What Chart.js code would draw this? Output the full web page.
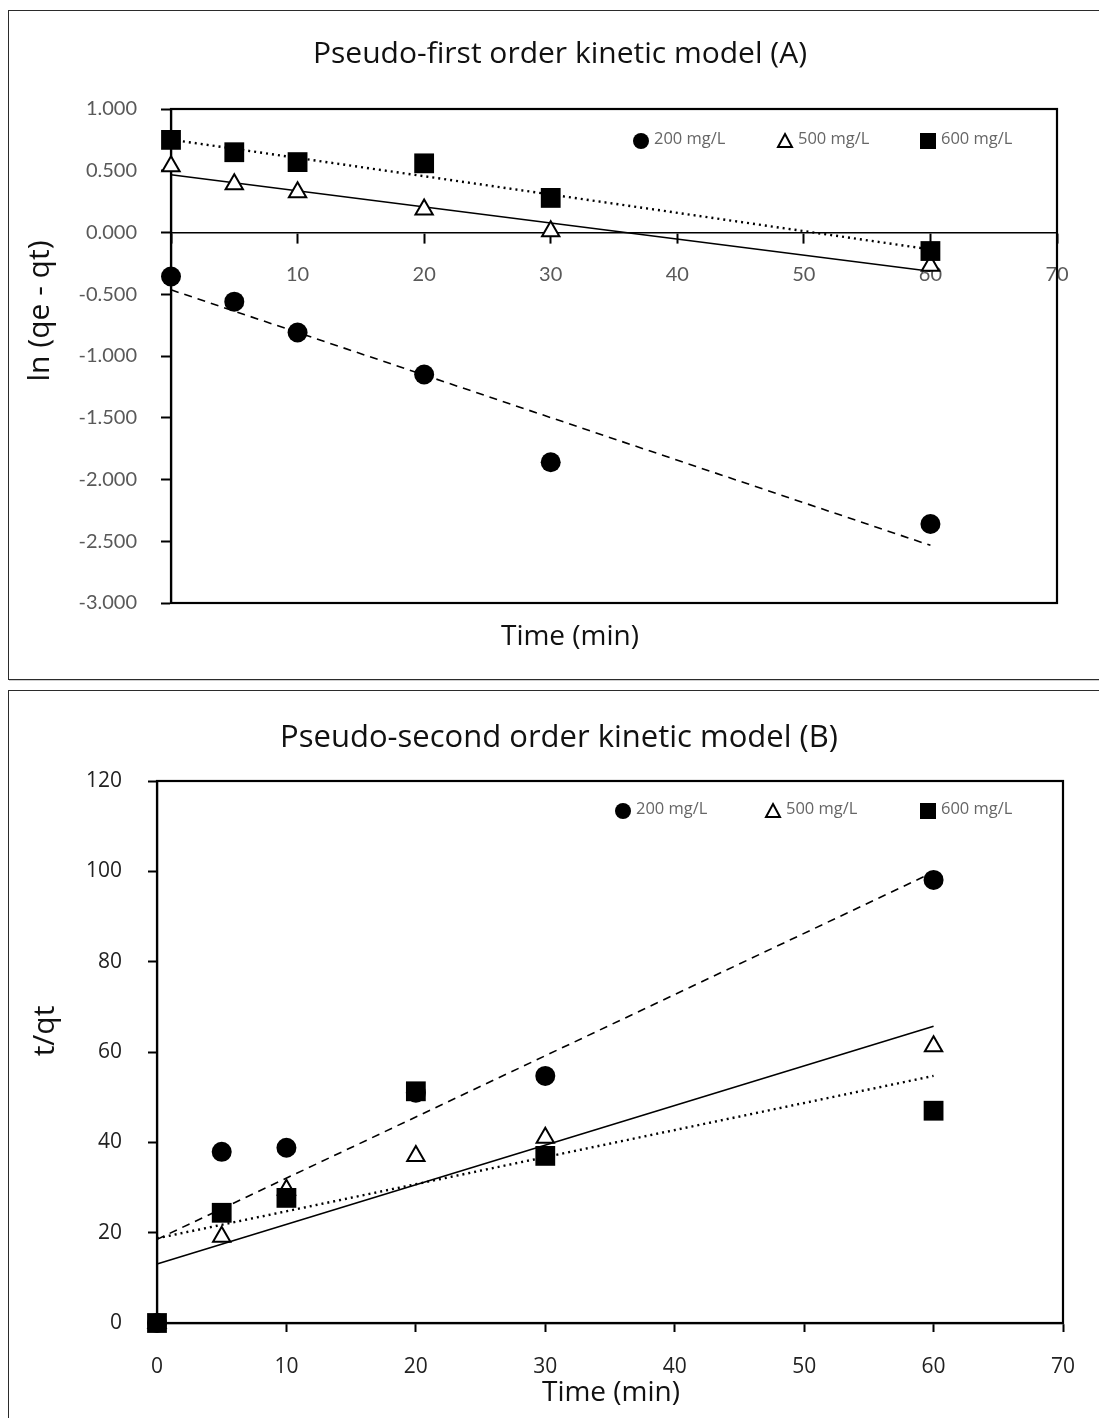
<!DOCTYPE html>
<html>
<head>
<meta charset="utf-8">
<script src="https://cdn.jsdelivr.net/npm/chart.js@4.4.1/dist/chart.umd.min.js"></script>
<style>
body { margin: 0; background: #fff; width: 1099px; height: 1418px; overflow: hidden; position: relative; }
.box { position: absolute; left: 8px; width: 1100px; border: 1.5px solid #2b2b2b; box-shadow: 1px 1px 0 #cfcfcf; }
#boxA { top: 10px; height: 668px; }
#boxB { top: 690px; height: 760px; }
canvas { position: absolute; left: 0; }
#chartA { top: 0; }
#chartB { top: 688px; }
</style>
</head>
<body>
<div class="box" id="boxA"></div>
<div class="box" id="boxB"></div>
<canvas id="chartA" width="1099" height="685"></canvas>
<canvas id="chartB" width="1099" height="730"></canvas>
<script>
// Dados
const timeMin = [0, 5, 10, 20, 30, 60];
const seriesLabels = ['200 mg/L', '500 mg/L', '600 mg/L'];

// (A) pseudo-primeira ordem: ln(qe - qt)
const lnA200 = [-0.356, -0.56, -0.81, -1.15, -1.86, -2.36];
const lnA500 = [0.537, 0.39, 0.326, 0.186, 0.01, -0.27];
const lnA600 = [0.75, 0.65, 0.57, 0.56, 0.28, -0.15];

// (B) pseudo-segunda ordem: t/qt
const tqB200 = [0, 37.9, 38.8, 51.0, 54.7, 98.1];
const tqB500 = [0, 19.1, 29.5, 37.0, 41.0, 61.3];
const tqB600 = [0, 24.4, 27.7, 51.3, 37.0, 47.0];

// Ticks
const xTicks = [0, 10, 20, 30, 40, 50, 60, 70];
const yTicksA = [1, 0.5, 0, -0.5, -1, -1.5, -2, -2.5, -3];
const yTicksB = [0, 20, 40, 60, 80, 100, 120];

function pts(ys) {
    return timeMin.map(function(x, i) { return { x: x, y: ys[i] }; });
}

// Linha de tendência linear (mínimos quadrados), como no Excel
function fitLine(xs, ys) {
    const n = xs.length;
    const mx = xs.reduce((a, b) => a + b, 0) / n;
    const my = ys.reduce((a, b) => a + b, 0) / n;
    let sxy = 0, sxx = 0;
    for (let i = 0; i < n; i++) {
        sxy += (xs[i] - mx) * (ys[i] - my);
        sxx += (xs[i] - mx) * (xs[i] - mx);
    }
    const m = sxy / sxx, b = my - m * mx;
    const x0 = Math.min(...xs), x1 = Math.max(...xs);
    return [{ x: x0, y: m * x0 + b }, { x: x1, y: m * x1 + b }];
}

function makeDatasets(ys200, ys500, ys600) {
    return [
        { label: seriesLabels[2], data: pts(ys600), pointStyle: 'rect', pointRadius: 14, pointHoverRadius: 14,
          backgroundColor: '#000', borderColor: '#000', pointBorderWidth: 0, showLine: false, clip: false, order: 0 },
        { label: seriesLabels[1], data: pts(ys500), pointStyle: 'triangle', pointRadius: 10, pointHoverRadius: 10,
          backgroundColor: '#fff', borderColor: '#000', pointBorderWidth: 2, showLine: false, clip: false, order: 1 },
        { label: seriesLabels[0], data: pts(ys200), pointStyle: 'circle', pointRadius: 10, pointHoverRadius: 10,
          backgroundColor: '#000', borderColor: '#000', pointBorderWidth: 0, showLine: false, clip: false, order: 2 },
        { label: 'trend200', data: fitLine(timeMin, ys200), showLine: true, pointRadius: 0, borderColor: '#000',
          borderWidth: 1.6, borderDash: [8, 6], clip: false, order: 3 },
        { label: 'trend500', data: fitLine(timeMin, ys500), showLine: true, pointRadius: 0, borderColor: '#000',
          borderWidth: 1.6, clip: false, order: 4 },
        { label: 'trend600', data: fitLine(timeMin, ys600), showLine: true, pointRadius: 0, borderColor: '#000',
          borderWidth: 2.4, borderDash: [2, 4], clip: false, order: 5 }
    ];
}

// Moldura da área do gráfico, legenda e textos
const framePlugin = {
    id: 'frame',
    beforeDatasetsDraw(chart) {
        const a = chart.chartArea, ctx = chart.ctx;
        ctx.save();
        ctx.strokeStyle = '#000';
        ctx.lineWidth = 2.2;
        ctx.strokeRect(a.left, a.top, a.right - a.left, a.bottom - a.top);
        ctx.restore();
    },
    afterDraw(chart, args, opts) {
        const a = chart.chartArea, ctx = chart.ctx;
        ctx.save();
        // legenda
        ctx.font = '16.5px "Open Sans", sans-serif';
        ctx.textBaseline = 'middle';
        ctx.textAlign = 'left';
        const ly = a.top + opts.legendY;
        opts.legendX.forEach(function(off, i) {
            const cx = a.right + off;
            ctx.fillStyle = '#000';
            ctx.strokeStyle = '#000';
            ctx.beginPath();
            if (i === 0) {
                ctx.arc(cx, ly, 8, 0, Math.PI * 2);
                ctx.fill();
            } else if (i === 1) {
                ctx.lineWidth = 2;
                ctx.moveTo(cx, ly - 7);
                ctx.lineTo(cx + 7, ly + 6);
                ctx.lineTo(cx - 7, ly + 6);
                ctx.closePath();
                ctx.stroke();
            } else {
                ctx.rect(cx - 8, ly - 8, 16, 16);
                ctx.fill();
            }
            ctx.fillStyle = '#666';
            ctx.fillText(seriesLabels[i], cx + 13, ly - 2);
        });
        // títulos
        ctx.fillStyle = '#111';
        ctx.textAlign = 'center';
        ctx.font = opts.titleSize + 'px "Open Sans", sans-serif';
        ctx.fillText(opts.title, opts.titleX, opts.titleY);
        ctx.font = '28px "Open Sans", sans-serif';
        ctx.fillText('Time (min)', opts.xTitleX, opts.xTitleY);
        ctx.font = '30px "Open Sans", sans-serif';
        ctx.translate(opts.yTitleX, opts.yTitleY);
        ctx.rotate(-Math.PI / 2);
        ctx.fillText(opts.yTitle, 0, 0);
        ctx.restore();
    }
};

// Gráfico A
new Chart(document.getElementById('chartA'), {
    type: 'scatter',
    data: { datasets: makeDatasets(lnA200, lnA500, lnA600) },
    plugins: [framePlugin],
    options: {
        responsive: false,
        animation: false,
        layout: { padding: { top: 109, right: 42, bottom: 82, left: 0 } },
        plugins: {
            legend: { display: false },
            tooltip: { enabled: false },
            frame: {
                legendX: [-416, -272, -129], legendY: 32,
                title: 'Pseudo-first order kinetic model (A)', titleSize: 30, titleX: 560, titleY: 54,
                xTitleX: 570, xTitleY: 637,
                yTitle: 'ln (qe - qt)', yTitleX: 40, yTitleY: 311
            }
        },
        scales: {
            x: {
                type: 'linear', position: { y: 0 }, min: 0, max: 70,
                afterBuildTicks: function(s) { s.ticks = xTicks.map(v => ({ value: v })); },
                grid: { drawOnChartArea: false, tickLength: 10, tickColor: '#000', tickWidth: 2 },
                border: { display: true, color: '#000', width: 1.6 },
                ticks: { color: '#595959', padding: 20, maxRotation: 0, font: { family: 'Lato', size: 20 } }
            },
            y: {
                type: 'linear', min: -3, max: 1,
                afterBuildTicks: function(s) { s.ticks = yTicksA.map(v => ({ value: v })); },
                afterFit: function(s) { s.width = 171; },
                grid: { drawOnChartArea: false, tickLength: 10, tickColor: '#000', tickWidth: 2 },
                border: { display: true, color: '#000', width: 2.2 },
                ticks: { color: '#595959', padding: 24, font: { family: 'Lato', size: 20 },
                         callback: v => v.toFixed(3) }
            }
        }
    }
});

// Gráfico B
new Chart(document.getElementById('chartB'), {
    type: 'scatter',
    data: { datasets: makeDatasets(tqB200, tqB500, tqB600) },
    plugins: [framePlugin],
    options: {
        responsive: false,
        animation: false,
        layout: { padding: { top: 93, right: 36, bottom: 0, left: 0 } },
        plugins: {
            legend: { display: false },
            tooltip: { enabled: false },
            frame: {
                legendX: [-440, -290, -135], legendY: 30,
                title: 'Pseudo-second order kinetic model (B)', titleSize: 31, titleX: 559, titleY: 50,
                xTitleX: 611, xTitleY: 705,
                yTitle: 't/qt', yTitleX: 45, yTitleY: 343
            }
        },
        scales: {
            x: {
                type: 'linear', min: 0, max: 70,
                afterBuildTicks: function(s) { s.ticks = xTicks.map(v => ({ value: v })); },
                afterFit: function(s) { s.height = 95; },
                grid: { drawOnChartArea: false, tickLength: 9, tickColor: '#000', tickWidth: 2 },
                border: { display: true, color: '#000', width: 2.2 },
                ticks: { color: '#222', padding: 22, maxRotation: 0, font: { family: 'Open Sans', size: 21 } }
            },
            y: {
                type: 'linear', min: 0, max: 120,
                afterBuildTicks: function(s) { s.ticks = yTicksB.map(v => ({ value: v })); },
                afterFit: function(s) { s.width = 157; },
                grid: { drawOnChartArea: false, tickLength: 9, tickColor: '#000', tickWidth: 2 },
                border: { display: true, color: '#000', width: 2.2 },
                ticks: { color: '#222', padding: 26, font: { family: 'Open Sans', size: 21 } }
            }
        }
    }
});
</script>
</body>
</html>
